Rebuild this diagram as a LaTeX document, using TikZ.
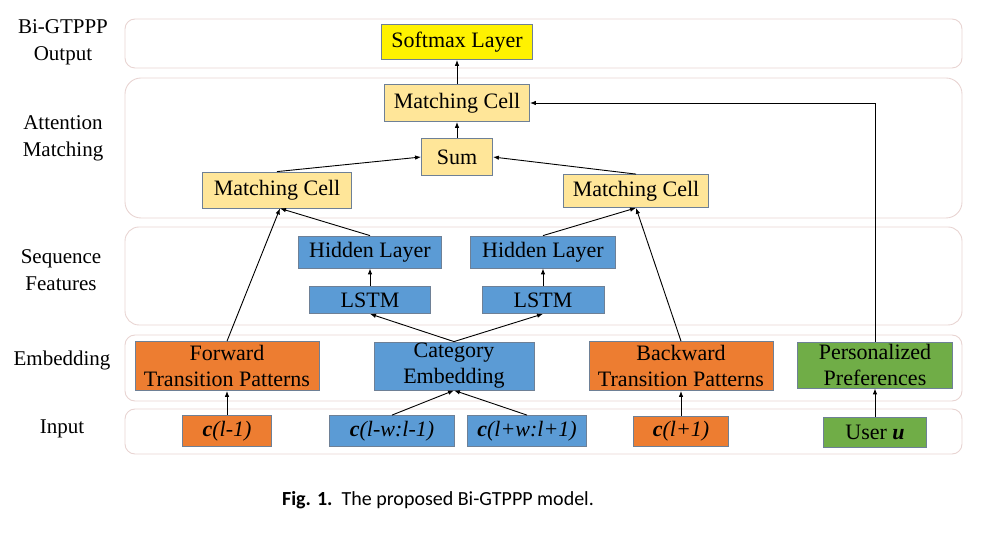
\documentclass[tikz,border=0pt]{standalone}
\usepackage{fontspec}
\setmainfont{Liberation Serif}
\newfontfamily\capfont{Carlito}
\usepackage{tikz}
\usetikzlibrary{arrows.meta}
\definecolor{layerline}{RGB}{232,212,210}
\definecolor{boxline}{RGB}{110,128,150}
\definecolor{cellfill}{RGB}{255,230,153}
\definecolor{seqblue}{RGB}{91,155,213}
\definecolor{patorange}{RGB}{237,125,49}
\definecolor{prefgreen}{RGB}{112,173,71}
\tikzset{
  layer/.style={draw=layerline, line width=0.9pt, rounded corners=10pt},
  tag/.style={align=center, font=\fontsize{21}{27}\selectfont},
  block/.style={draw=boxline, line width=0.8pt, inner sep=0pt, align=center, font=\fontsize{22}{26}\selectfont},
  cell/.style={block, fill=cellfill},
  blue/.style={block, fill=seqblue},
  orange/.style={block, fill=patorange},
  green/.style={block, fill=prefgreen},
  arr/.style={-{Latex[length=6pt,width=4.5pt]}, line width=0.9pt},
}
\begin{document}
\begin{tikzpicture}[x=1pt,y=-1pt]
\useasboundingbox (0,0) rectangle (989,534);
\draw[layer] (125,19) rectangle (962,68);
\draw[layer,rounded corners=16pt] (125,78) rectangle (962,218);
\draw[layer,rounded corners=14pt] (125,227) rectangle (962,325);
\draw[layer] (125,335) rectangle (962,401);
\draw[layer] (125,409) rectangle (962,454);
\node[tag] at (63,42) (tout) {Bi-GTPPP\\Output};
\node[tag] at (63,138) (tatt) {Attention\\Matching};
\node[tag] at (61,270) (tseq) {Sequence\\Features};
\node[tag] at (62,360) (temb) {Embedding};
\node[tag] at (62,429) (tin) {Input};
\node[block,fill=yellow,minimum width=151,minimum height=35] at (457,42) (soft) {Softmax Layer};
\node[cell,minimum width=145,minimum height=37] at (457,103) (mctop) {Matching Cell};
\node[cell,minimum width=71,minimum height=37] at (457,157) (sum) {Sum};
\node[cell,minimum width=149,minimum height=36] at (277,190) (mcl) {Matching Cell};
\node[cell,minimum width=145,minimum height=33] at (636,191) (mcr) {Matching Cell};
\node[blue,minimum width=143,minimum height=32] at (370,252) (hidl) {Hidden Layer};
\node[blue,minimum width=121,minimum height=27] at (370,300) (lstml) {LSTM};
\node[blue,minimum width=145,minimum height=32] at (543,252) (hidr) {Hidden Layer};
\node[blue,minimum width=122,minimum height=27] at (543,300) (lstmr) {LSTM};
\node[orange,minimum width=184,minimum height=49] at (227,366) (fwd) {Forward\\Transition Patterns};
\node[blue,minimum width=160,minimum height=48] at (454,366) (cat) {Category\\Embedding};
\node[orange,minimum width=184,minimum height=49] at (681,366) (bwd) {Backward\\Transition Patterns};
\node[green,minimum width=155,minimum height=46] at (875,365) (pref) {Personalized\\Preferences};
\node[orange,minimum width=89,minimum height=31] at (227,431) (cprev) {\textbf{\textit{c}}\textit{(l-1)}};
\node[blue,minimum width=125,minimum height=31] at (392,431) (cleft) {\textbf{\textit{c}}\textit{(l-w:l-1)}};
\node[blue,minimum width=119,minimum height=31] at (527,431) (cright) {\textbf{\textit{c}}\textit{(l+w:l+1)}};
\node[orange,minimum width=95,minimum height=30] at (681,431) (cnext) {\textbf{\textit{c}}\textit{(l+1)}};
\node[green,minimum width=103,minimum height=30] at (875,432) (user) {User \textbf{\textit{u}}};
\node[font=\capfont\fontsize{20}{24}\selectfont] at (438,500) (cap) {\textbf{Fig. 1.}\ \ The proposed Bi-GTPPP model.};
\draw[arr] (cprev) -- (fwd);
\draw[arr] (cnext) -- (bwd);
\draw[arr] (user) -- (pref);
\draw[arr] (cleft.north) -- (cat.south);
\draw[arr] (cright.north) -- (cat.south);
\draw[arr] (cat.north) -- (lstml.south);
\draw[arr] (cat.north) -- (lstmr.south);
\draw[arr] (lstml) -- (hidl);
\draw[arr] (lstmr) -- (hidr);
\draw[arr] (fwd.north) -- ([xshift=3pt]mcl.south);
\draw[arr] (hidl.north) -- ([xshift=3pt]mcl.south);
\draw[arr] (hidr.north) -- (mcr.south);
\draw[arr] (bwd.north) -- (mcr.south);
\draw[arr] (mcl.north) -- (sum.west);
\draw[arr] (mcr.north) -- (sum.east);
\draw[arr] (sum) -- (mctop);
\draw[arr] (mctop) -- (soft);
\draw[arr] (pref.north) -- (pref.north |- mctop.east) -- (mctop.east);
\end{tikzpicture}
\end{document}
